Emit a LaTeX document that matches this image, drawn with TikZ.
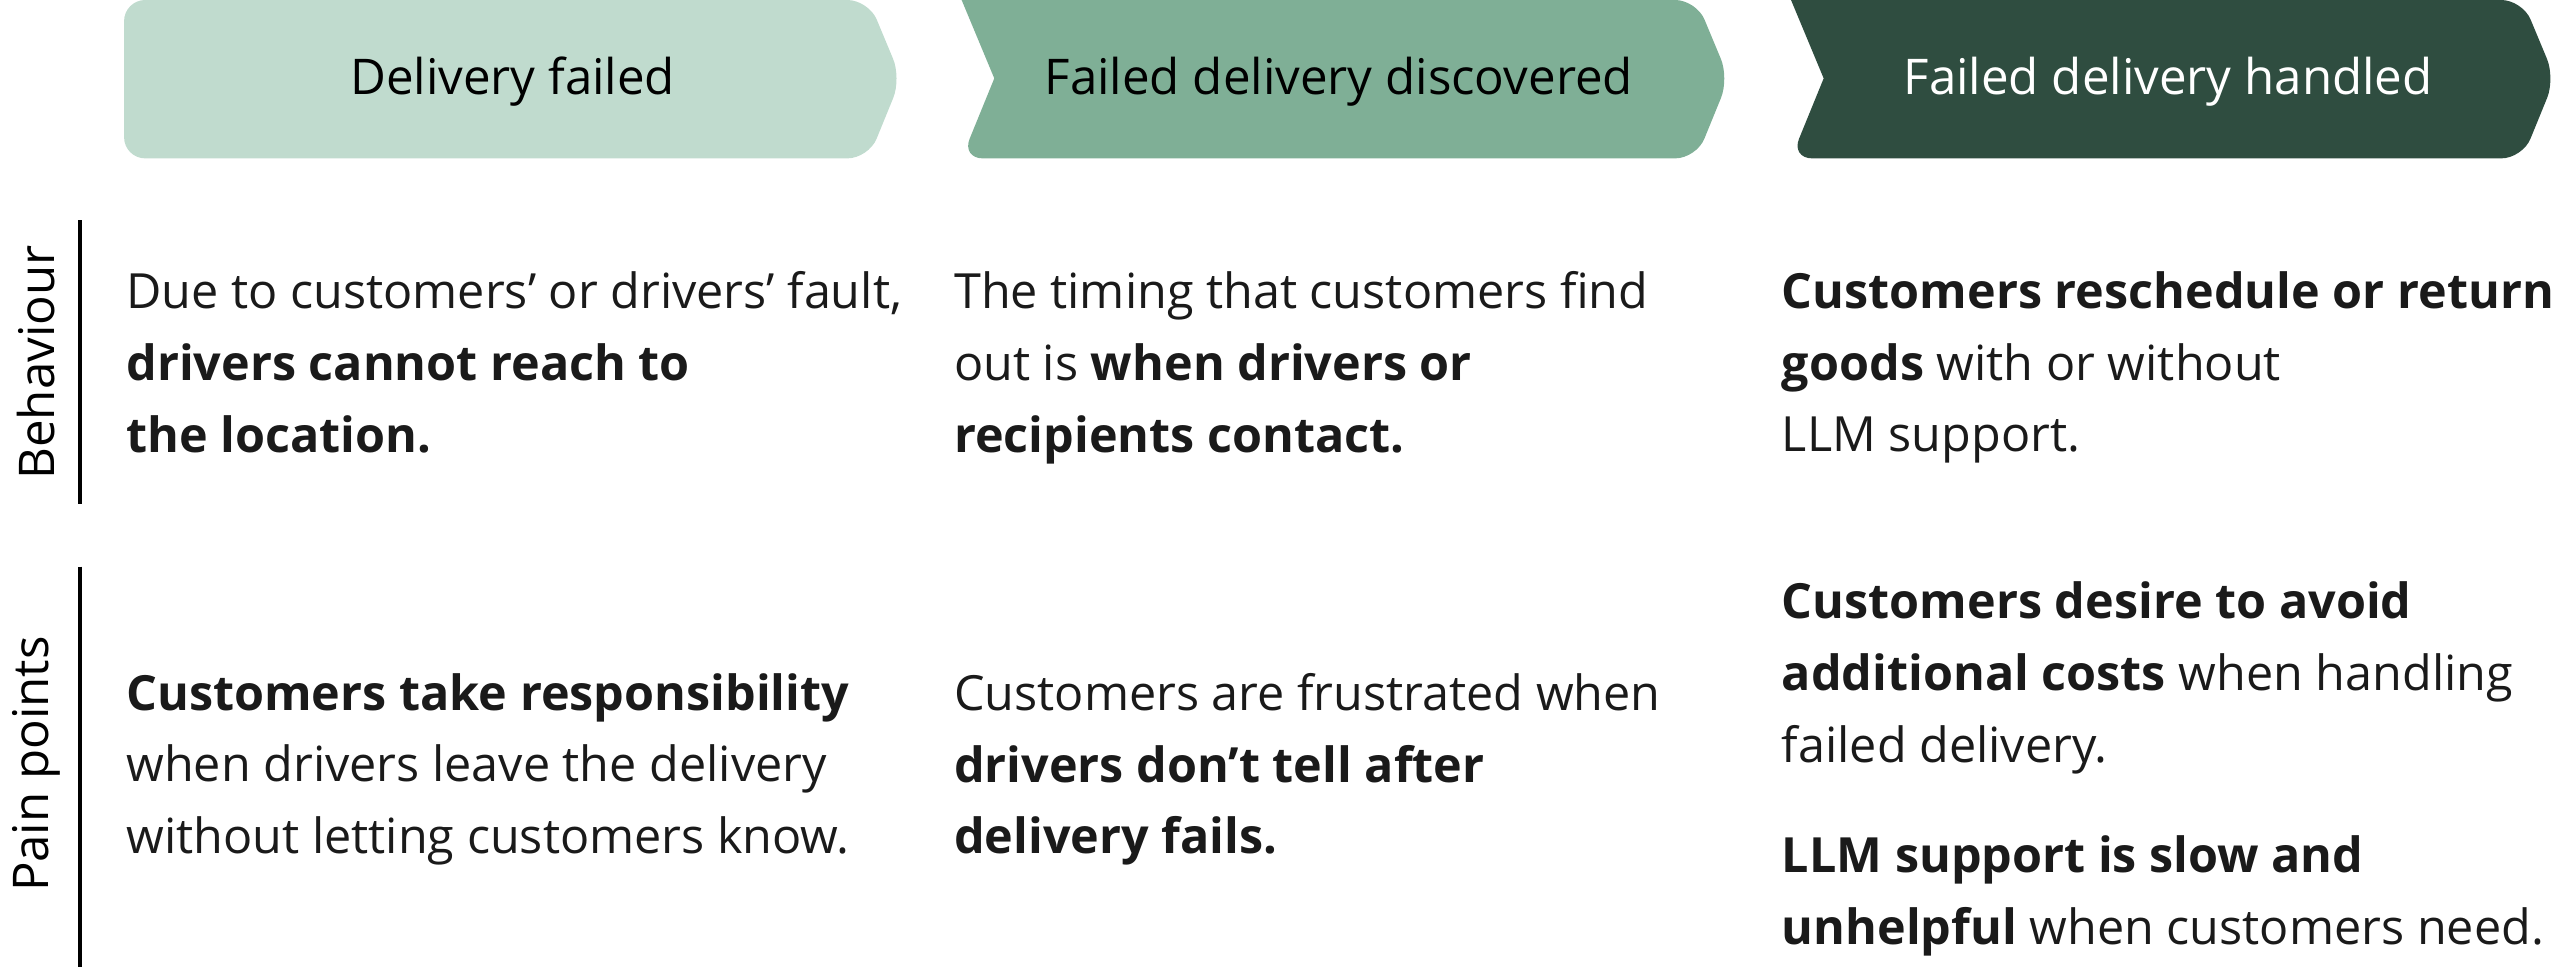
\documentclass[tikz,border=0pt]{standalone}
\usepackage{fontspec}
\setmainfont{Open Sans}
\usepackage{tikz}
\definecolor{stageA}{HTML}{C0DBCE}
\definecolor{stageB}{HTML}{7FAF96}
\definecolor{stageC}{HTML}{2F4D40}
\definecolor{inkgrey}{HTML}{1A1A1A}

\begin{document}
\begin{tikzpicture}[x=0.016327cm, y=-0.016327cm,
    headtext/.style={font=\fontsize{14}{18}\selectfont, anchor=center},
    celltext/.style={font=\fontsize{13.8}{20.4}\selectfont, text=inkgrey, anchor=north west,
      inner sep=0pt, align=left},
    rowlabel/.style={font=\fontsize{14}{18}\selectfont, rotate=90, anchor=center}]
    \useasboundingbox (0, 0) rectangle (1568, 592);

    % stage chevrons
    \fill[stageA, rounded corners=6] (76, 0) -- (532, 0) -- (552, 48) -- (532, 97) -- (76, 97) -- cycle;
    \fill[stageB, rounded corners=6] (589, 0) -- (1039, 0) -- (1059, 48) -- (1039, 97) -- (589, 97)
      [sharp corners] -- (609, 48) -- cycle;
    \fill[stageC, rounded corners=6] (1097, 0) -- (1545, 0) -- (1565, 48) -- (1545, 97) -- (1097, 97)
      [sharp corners] -- (1117, 48) -- cycle;
    \node[headtext] (headA) at (314, 50) {Delivery failed};
    \node[headtext] (headB) at (820, 50) {Failed delivery discovered};
    \node[headtext, text=white] (headC) at (1328, 50) {Failed delivery handled};

    % row labels
    \node[rowlabel] (behav) at (22, 222) {Behaviour};
    \node[rowlabel] (pain) at (22, 468) {Pain points};
    \draw[line width=1.2pt] (49, 135) -- (49, 309);
    \draw[line width=1.2pt] (49, 347) -- (49, 592);

    % behaviour row
    \node[celltext] (behavA) at (77, 166) {Due to customers’ or drivers’ fault,\\ \textbf{drivers cannot reach to}\\ \textbf{the location.}};
    \node[celltext] (behavB) at (584, 166) {The timing that customers find\\ out is \textbf{when drivers or}\\ \textbf{recipients contact.}};
    \node[celltext] (behavC) at (1091, 166) {\textbf{Customers reschedule or return}\\ \textbf{goods} with or without\\ LLM support.};

    % pain points row
    \node[celltext] (painA) at (77, 412) {\textbf{Customers take responsibility}\\ when drivers leave the delivery\\ without letting customers know.};
    \node[celltext] (painB) at (584, 412) {Customers are frustrated when\\ \textbf{drivers don’t tell after}\\ \textbf{delivery fails.}};
    \node[celltext] (painC) at (1091, 356) {\textbf{Customers desire to avoid}\\ \textbf{additional costs} when handling\\ failed delivery.\\[11pt]
      \textbf{LLM support is slow and}\\ \textbf{unhelpful} when customers need.};
  \end{tikzpicture}
\end{document}
